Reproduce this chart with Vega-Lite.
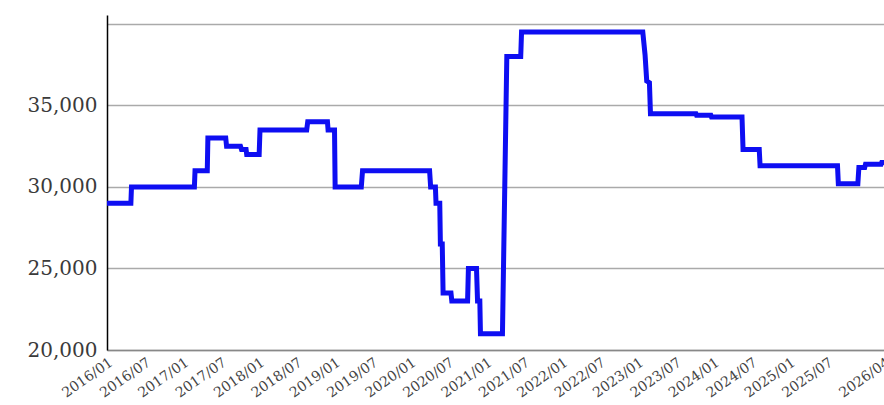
{
  "$schema": "https://vega.github.io/schema/vega-lite/v6.json",
  "width": 777,
  "height": 335,
  "autosize": {"type": "none"},
  "padding": {"left": 107, "top": 15, "right": 0, "bottom": 55},
  "background": "white",
  "config": {
    "view": {"stroke": null},
    "axis": {"labelFont": "DejaVu Serif", "ticks": false}
  },
  "data": {
    "values": [
      {"date": "2016-01-01", "price": 29000},
      {"date": "2016-04-25", "price": 29000},
      {"date": "2016-04-28", "price": 30000},
      {"date": "2017-02-25", "price": 30000},
      {"date": "2017-02-28", "price": 31000},
      {"date": "2017-04-28", "price": 31000},
      {"date": "2017-05-01", "price": 33000},
      {"date": "2017-07-26", "price": 33000},
      {"date": "2017-07-30", "price": 32500},
      {"date": "2017-10-05", "price": 32500},
      {"date": "2017-10-10", "price": 32300},
      {"date": "2017-11-01", "price": 32300},
      {"date": "2017-11-04", "price": 32000},
      {"date": "2018-01-03", "price": 32000},
      {"date": "2018-01-07", "price": 33500},
      {"date": "2018-08-20", "price": 33500},
      {"date": "2018-08-25", "price": 34000},
      {"date": "2018-11-28", "price": 34000},
      {"date": "2018-12-01", "price": 33500},
      {"date": "2019-01-01", "price": 33500},
      {"date": "2019-01-04", "price": 30000},
      {"date": "2019-05-10", "price": 30000},
      {"date": "2019-05-16", "price": 31000},
      {"date": "2020-04-03", "price": 31000},
      {"date": "2020-04-08", "price": 30000},
      {"date": "2020-05-01", "price": 30000},
      {"date": "2020-05-04", "price": 29000},
      {"date": "2020-05-22", "price": 29000},
      {"date": "2020-05-25", "price": 26500},
      {"date": "2020-06-03", "price": 26500},
      {"date": "2020-06-07", "price": 23500},
      {"date": "2020-07-15", "price": 23500},
      {"date": "2020-07-19", "price": 23000},
      {"date": "2020-10-03", "price": 23000},
      {"date": "2020-10-07", "price": 25000},
      {"date": "2020-11-15", "price": 25000},
      {"date": "2020-11-20", "price": 23000},
      {"date": "2020-12-01", "price": 23000},
      {"date": "2020-12-04", "price": 21000},
      {"date": "2021-03-20", "price": 21000},
      {"date": "2021-04-10", "price": 38000},
      {"date": "2021-06-16", "price": 38000},
      {"date": "2021-06-20", "price": 39500},
      {"date": "2023-01-25", "price": 39500},
      {"date": "2023-02-05", "price": 38100},
      {"date": "2023-02-13", "price": 36500},
      {"date": "2023-02-26", "price": 36400},
      {"date": "2023-03-03", "price": 34500},
      {"date": "2023-10-08", "price": 34500},
      {"date": "2023-10-11", "price": 34400},
      {"date": "2023-12-19", "price": 34400},
      {"date": "2023-12-22", "price": 34300},
      {"date": "2024-05-17", "price": 34300},
      {"date": "2024-05-22", "price": 32300},
      {"date": "2024-08-08", "price": 32300},
      {"date": "2024-08-12", "price": 31300},
      {"date": "2025-08-20", "price": 31300},
      {"date": "2025-08-24", "price": 30200},
      {"date": "2025-11-26", "price": 30200},
      {"date": "2025-12-01", "price": 31200},
      {"date": "2025-12-29", "price": 31200},
      {"date": "2026-01-02", "price": 31400},
      {"date": "2026-03-18", "price": 31400},
      {"date": "2026-03-21", "price": 31500},
      {"date": "2026-04-01", "price": 31500}
    ]
  },
  "mark": {"type": "line", "color": "#0e0ef2", "strokeWidth": 5, "strokeJoin": "miter", "strokeCap": "square", "clip": true},
  "encoding": {
    "x": {
      "field": "date",
      "type": "temporal",
      "scale": {
        "type": "utc",
        "domain": [
          {"year": 2016, "month": 1, "date": 1, "utc": true},
          {"year": 2026, "month": 4, "date": 1, "utc": true}
        ]
      },
      "axis": {
        "title": null,
        "format": "%Y/%m",
        "values": [
          {"year": 2016, "month": 1, "date": 1, "utc": true},
          {"year": 2016, "month": 7, "date": 1, "utc": true},
          {"year": 2017, "month": 1, "date": 1, "utc": true},
          {"year": 2017, "month": 7, "date": 1, "utc": true},
          {"year": 2018, "month": 1, "date": 1, "utc": true},
          {"year": 2018, "month": 7, "date": 1, "utc": true},
          {"year": 2019, "month": 1, "date": 1, "utc": true},
          {"year": 2019, "month": 7, "date": 1, "utc": true},
          {"year": 2020, "month": 1, "date": 1, "utc": true},
          {"year": 2020, "month": 7, "date": 1, "utc": true},
          {"year": 2021, "month": 1, "date": 1, "utc": true},
          {"year": 2021, "month": 7, "date": 1, "utc": true},
          {"year": 2022, "month": 1, "date": 1, "utc": true},
          {"year": 2022, "month": 7, "date": 1, "utc": true},
          {"year": 2023, "month": 1, "date": 1, "utc": true},
          {"year": 2023, "month": 7, "date": 1, "utc": true},
          {"year": 2024, "month": 1, "date": 1, "utc": true},
          {"year": 2024, "month": 7, "date": 1, "utc": true},
          {"year": 2025, "month": 1, "date": 1, "utc": true},
          {"year": 2025, "month": 7, "date": 1, "utc": true},
          {"year": 2026, "month": 4, "date": 1, "utc": true}
        ],
        "labelAngle": -35,
        "labelAlign": "right",
        "labelBaseline": "top",
        "labelFontSize": 14,
        "labelColor": "#444444",
        "labelPadding": 5,
        "labelOverlap": false,
        "labelBound": false,
        "labelFlush": false,
        "grid": false,
        "domainColor": "#888888",
        "domainWidth": 1.5
      }
    },
    "y": {
      "field": "price",
      "type": "quantitative",
      "scale": {"domain": [20000, 40550], "nice": false, "zero": false},
      "axis": {
        "title": null,
        "values": [20000, 25000, 30000, 35000, 40000],
        "format": ",d",
        "labelExpr": "datum.value >= 40000 ? '' : datum.label",
        "labelFontSize": 20,
        "labelColor": "#3a3a3a",
        "labelPadding": 10,
        "grid": true,
        "gridColor": "#aaaaaa",
        "gridWidth": 1.5,
        "domainColor": "#000000",
        "domainWidth": 1.5
      }
    }
  }
}
